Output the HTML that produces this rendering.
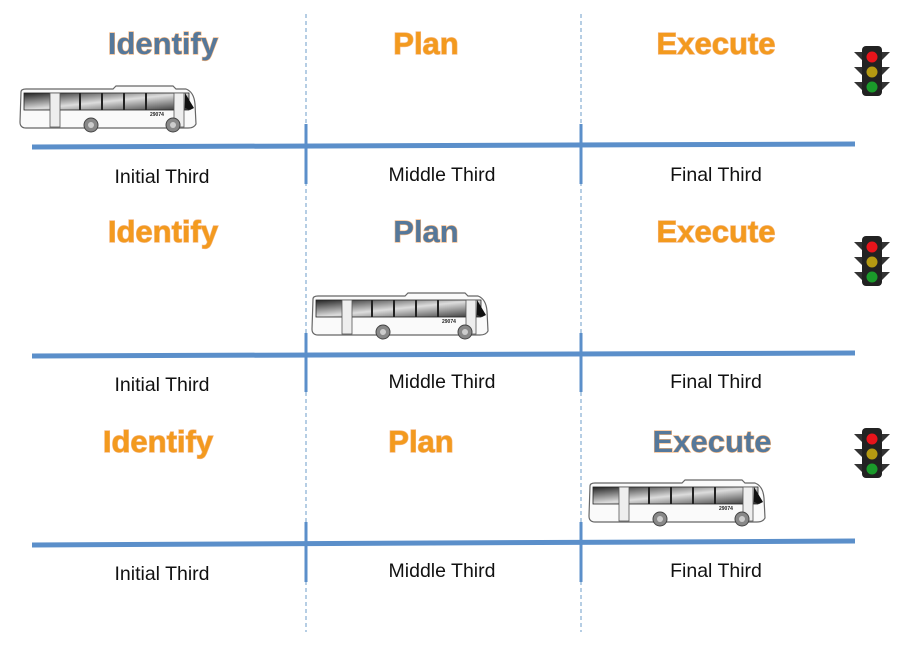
<!DOCTYPE html>
<html><head><meta charset="utf-8"><style>
body{margin:0;background:#fff;}
svg{display:block}
.h{font-family:"Liberation Sans",sans-serif;font-weight:bold;font-size:31px;text-anchor:middle;stroke:#f4b37a;stroke-width:1.2px;paint-order:stroke}
.o{fill:#f39a1e}
.b{fill:#55789b}
.l{font-family:"Liberation Sans",sans-serif;font-size:19.5px;fill:#111;text-anchor:middle}
</style></head><body>
<svg width="920" height="649" viewBox="0 0 920 649">
<defs>
<linearGradient id="win" x1="0" y1="0" x2="1" y2="1">
<stop offset="0" stop-color="#222"/><stop offset="0.5" stop-color="#ddd"/><stop offset="1" stop-color="#333"/>
</linearGradient>
<symbol id="bus" viewBox="0 0 180 50">
<path d="M3 8 Q3 5 8 5 L95 5 L98 2 L155 2 L158 5 L168 5 Q176 8 177 20 L178 40 Q176 44 170 44 L8 44 Q2 44 2 38 Z" fill="#fafafa" stroke="#666" stroke-width="1.2"/>
<rect x="6" y="9" width="165" height="17" fill="url(#win)" stroke="#222" stroke-width="0.8"/>
<g stroke="#222" stroke-width="2"><line x1="40" y1="9" x2="40" y2="26"/><line x1="62" y1="9" x2="62" y2="26"/><line x1="84" y1="9" x2="84" y2="26"/><line x1="106" y1="9" x2="106" y2="26"/><line x1="128" y1="9" x2="128" y2="26"/></g>
<rect x="32" y="9" width="10" height="34" fill="#eee" stroke="#555" stroke-width="0.8"/>
<rect x="156" y="9" width="10" height="34" fill="#eee" stroke="#555" stroke-width="0.8"/>
<path d="M167 9 L176 24 L172 26 L167 24Z" fill="#111"/>
<text x="132" y="32" font-family="Liberation Sans,sans-serif" font-size="5" font-weight="bold" fill="#222">29074</text>
<circle cx="73" cy="41" r="7" fill="#888" stroke="#444"/><circle cx="73" cy="41" r="3" fill="#ccc"/>
<circle cx="155" cy="41" r="7" fill="#888" stroke="#444"/><circle cx="155" cy="41" r="3" fill="#ccc"/>
</symbol>
<symbol id="tl" viewBox="0 0 40 50">
<g fill="#333"><path d="M2 6 L10 6 L10 14Z"/><path d="M2 21 L10 21 L10 29Z"/><path d="M2 36 L10 36 L10 44Z"/><path d="M38 6 L30 6 L30 14Z"/><path d="M38 21 L30 21 L30 29Z"/><path d="M38 36 L30 36 L30 44Z"/></g>
<rect x="10" y="0" width="20" height="50" rx="4" fill="#222"/>
<circle cx="20" cy="11" r="5.5" fill="#e8141b"/><circle cx="20" cy="26" r="5.5" fill="#b59a12"/><circle cx="20" cy="41" r="5.5" fill="#1a9a2a"/>
</symbol>
</defs>
<g stroke="#6e9cc9" stroke-width="1" stroke-dasharray="4,3"><line x1="306" y1="14" x2="306" y2="632"/><line x1="581" y1="14" x2="581" y2="632"/></g>
<g stroke="#5b8fca" stroke-width="5">
<line x1="32" y1="147" x2="855" y2="144"/><line x1="32" y1="356" x2="855" y2="353"/><line x1="32" y1="545" x2="855" y2="541"/>
</g>
<g stroke="#5b8fca" stroke-width="3">
<line x1="306" y1="124" x2="306" y2="184"/><line x1="581" y1="124" x2="581" y2="184"/>
<line x1="306" y1="333" x2="306" y2="392"/><line x1="581" y1="333" x2="581" y2="392"/>
<line x1="306" y1="522" x2="306" y2="582"/><line x1="581" y1="522" x2="581" y2="582"/>
</g>
<text class="h b" x="163" y="54">Identify</text><text class="h o" x="426" y="54">Plan</text><text class="h o" x="716" y="54">Execute</text>
<text class="h o" x="163" y="242">Identify</text><text class="h b" x="426" y="242">Plan</text><text class="h o" x="716" y="242">Execute</text>
<text class="h o" x="158" y="452">Identify</text><text class="h o" x="421" y="452">Plan</text><text class="h b" x="712" y="452">Execute</text>
<text class="l" x="162" y="183">Initial Third</text><text class="l" x="442" y="181">Middle Third</text><text class="l" x="716" y="181">Final Third</text>
<text class="l" x="162" y="391">Initial Third</text><text class="l" x="442" y="388">Middle Third</text><text class="l" x="716" y="388">Final Third</text>
<text class="l" x="162" y="580">Initial Third</text><text class="l" x="442" y="577">Middle Third</text><text class="l" x="716" y="577">Final Third</text>
<use href="#bus" x="18" y="84" width="180" height="50"/>
<use href="#bus" x="310" y="291" width="180" height="50"/>
<use href="#bus" x="587" y="478" width="180" height="50"/>
<use href="#tl" x="852" y="46" width="40" height="50"/>
<use href="#tl" x="852" y="236" width="40" height="50"/>
<use href="#tl" x="852" y="428" width="40" height="50"/>
</svg>
</body></html>
